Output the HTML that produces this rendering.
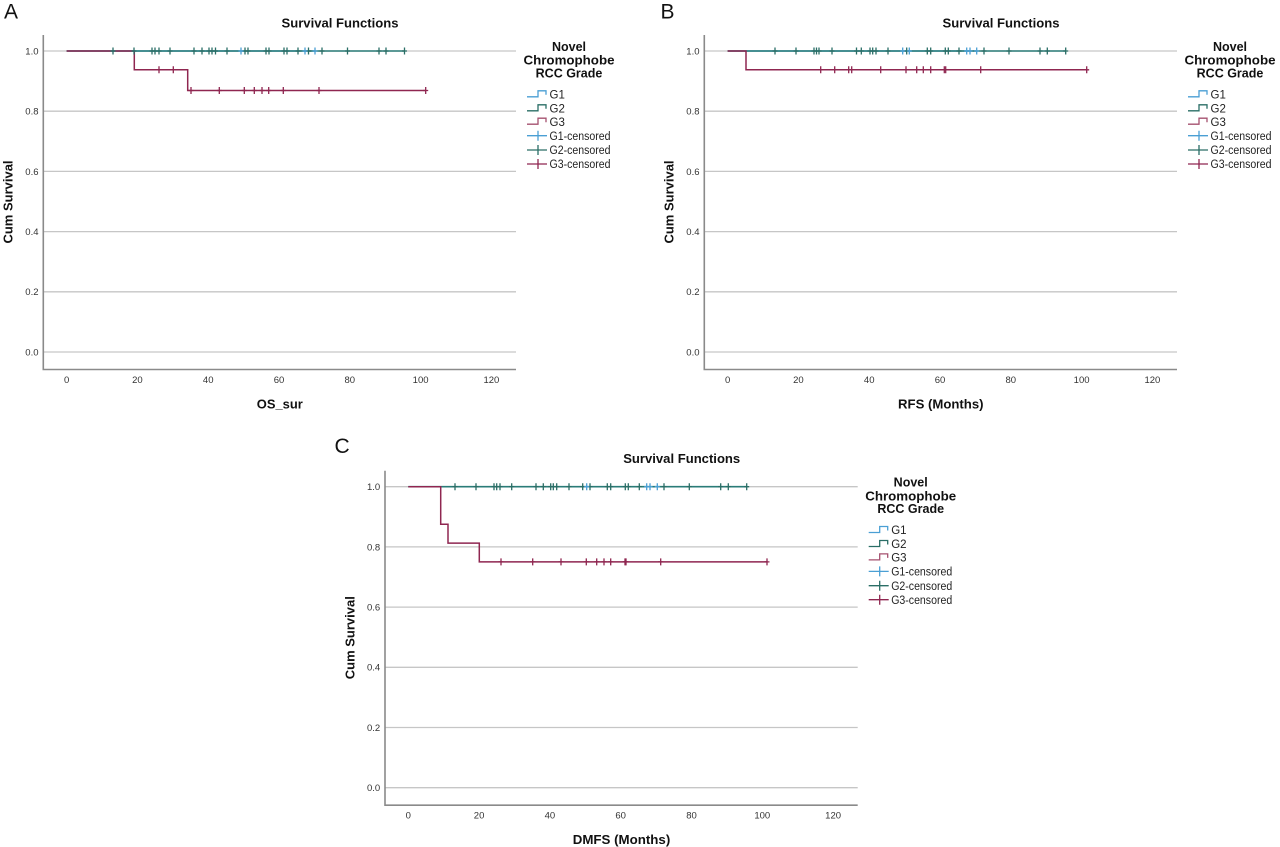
<!DOCTYPE html>
<html>
<head>
<meta charset="utf-8">
<style>
  html, body { margin: 0; padding: 0; background: #ffffff; }
  svg { display: block; }
  text { font-family: "Liberation Sans", Arial, sans-serif; }
  .tick { font-size: 9.5px; fill: #333333; }
  .ttl { font-size: 13px; font-weight: bold; fill: #111111; }
  .lgt { font-size: 12.5px; font-weight: bold; fill: #111111; }
  .lg { font-size: 11.5px; fill: #222222; }
  .letter { font-size: 21px; fill: #111111; }
</style>
</head>
<body>
<svg width="1280" height="847" viewBox="0 0 1280 847" xmlns="http://www.w3.org/2000/svg">
  <defs>
    <path id="cx" d="M0,-3.5V3.5M-2.5,0H2.5" fill="none"/>
  </defs>
  <rect x="0" y="0" width="1280" height="847" fill="#ffffff"/>

  <!-- Panel letters -->
  <text class="letter" x="4" y="18.5">A</text>
  <text class="letter" x="660.5" y="18.5">B</text>
  <text class="letter" x="334.5" y="453">C</text>

  <!-- ================= PANEL A ================= -->
  <g transform="translate(0,0)">
    <text class="ttl" x="340" y="27.5" text-anchor="middle" textLength="117" lengthAdjust="spacingAndGlyphs">Survival Functions</text>
    <!-- gridlines -->
    <g stroke="#c6c6c6" stroke-width="1.3" fill="none">
      <path d="M43.3,51H516M43.3,111.2H516M43.3,171.4H516M43.3,231.6H516M43.3,291.8H516M43.3,352H516"/>
    </g>
    <!-- axes -->
    <path d="M43.3,35V369.5H516" stroke="#8a8a8a" stroke-width="1.6" fill="none"/>
    <!-- y ticks -->
    <g class="tick" text-anchor="end">
      <text x="38.5" y="54.4">1.0</text>
      <text x="38.5" y="114.6">0.8</text>
      <text x="38.5" y="174.8">0.6</text>
      <text x="38.5" y="235">0.4</text>
      <text x="38.5" y="295.2">0.2</text>
      <text x="38.5" y="355.4">0.0</text>
    </g>
    <!-- x ticks -->
    <g class="tick" text-anchor="middle">
      <text x="66.6" y="383">0</text>
      <text x="137.4" y="383">20</text>
      <text x="208.2" y="383">40</text>
      <text x="279" y="383">60</text>
      <text x="349.8" y="383">80</text>
      <text x="420.6" y="383">100</text>
      <text x="491.4" y="383">120</text>
    </g>
    <text class="ttl" x="279.8" y="408.5" text-anchor="middle" textLength="46" lengthAdjust="spacingAndGlyphs">OS_sur</text>
    <text class="ttl" transform="translate(12.6,202) rotate(-90)" text-anchor="middle">Cum Survival</text>

    <!-- series -->
    <path d="M66.6,51H315" stroke="#4a9fd4" stroke-width="1.5" fill="none"/>
    <path d="M66.6,51H404.5" stroke="#2a7c78" stroke-width="1.6" fill="none"/>
    <path d="M66.6,51H134.3V69.8H187.7V90.5H425.7" stroke="#8f2650" stroke-width="1.5" fill="none"/>
    <g stroke="#2a6e66" stroke-width="1.3">
      <use href="#cx" x="113" y="51"/><use href="#cx" x="134" y="51"/><use href="#cx" x="152" y="51"/>
      <use href="#cx" x="155" y="51"/><use href="#cx" x="159" y="51"/><use href="#cx" x="170" y="51"/>
      <use href="#cx" x="194" y="51"/><use href="#cx" x="202" y="51"/><use href="#cx" x="209" y="51"/>
      <use href="#cx" x="212" y="51"/><use href="#cx" x="215.5" y="51"/><use href="#cx" x="227" y="51"/>
      <use href="#cx" x="245" y="51"/><use href="#cx" x="248" y="51"/><use href="#cx" x="266" y="51"/>
      <use href="#cx" x="269" y="51"/><use href="#cx" x="284" y="51"/><use href="#cx" x="287" y="51"/>
      <use href="#cx" x="298" y="51"/><use href="#cx" x="308.5" y="51"/><use href="#cx" x="322" y="51"/>
      <use href="#cx" x="347.5" y="51"/><use href="#cx" x="379" y="51"/><use href="#cx" x="386" y="51"/>
      <use href="#cx" x="404.5" y="51"/>
    </g>
    <g stroke="#4a9fd4" stroke-width="1.3">
      <use href="#cx" x="241" y="51"/><use href="#cx" x="305" y="51"/><use href="#cx" x="315" y="51"/>
    </g>
    <g stroke="#8f2650" stroke-width="1.3">
      <use href="#cx" x="159" y="69.8"/><use href="#cx" x="173.3" y="69.8"/>
      <use href="#cx" x="191" y="90.5"/><use href="#cx" x="219.3" y="90.5"/><use href="#cx" x="244.3" y="90.5"/>
      <use href="#cx" x="254.3" y="90.5"/><use href="#cx" x="262" y="90.5"/><use href="#cx" x="268.7" y="90.5"/>
      <use href="#cx" x="283.3" y="90.5"/><use href="#cx" x="319" y="90.5"/><use href="#cx" x="425.7" y="90.5"/>
    </g>

    <!-- legend -->
    <g class="lgt" text-anchor="middle">
      <text x="569" y="51">Novel</text>
      <text x="569" y="64.7" textLength="91" lengthAdjust="spacingAndGlyphs">Chromophobe</text>
      <text x="569" y="77.4">RCC Grade</text>
    </g>
    <g fill="none" stroke-width="1.3">
      <path d="M527,96.8H538V90.8H546V94.8" stroke="#4a9fd4"/>
      <path d="M527,110.8H538V104.8H546V108.8" stroke="#2a6e66"/>
      <path d="M527,124.2H538V118.2H546V122.2" stroke="#a5506f"/>
      <path d="M527,135.7H547M538,130.7V140.7" stroke="#4a9fd4"/>
      <path d="M527,150H547M538,145V155" stroke="#2a6e66"/>
      <path d="M527,164H547M538,159V169" stroke="#8f2650"/>
    </g>
    <g class="lg">
      <text x="549.5" y="98.4">G1</text>
      <text x="549.5" y="112.4">G2</text>
      <text x="549.5" y="125.8">G3</text>
      <text x="549.5" y="139.8" textLength="61" lengthAdjust="spacingAndGlyphs">G1-censored</text>
      <text x="549.5" y="154.1" textLength="61" lengthAdjust="spacingAndGlyphs">G2-censored</text>
      <text x="549.5" y="168.1" textLength="61" lengthAdjust="spacingAndGlyphs">G3-censored</text>
    </g>
  </g>

  <!-- ================= PANEL B ================= -->
  <g transform="translate(661,0)">
    <text class="ttl" x="340" y="27.5" text-anchor="middle" textLength="117" lengthAdjust="spacingAndGlyphs">Survival Functions</text>
    <g stroke="#c6c6c6" stroke-width="1.3" fill="none">
      <path d="M43.3,51H516M43.3,111.2H516M43.3,171.4H516M43.3,231.6H516M43.3,291.8H516M43.3,352H516"/>
    </g>
    <path d="M43.3,35V369.5H516" stroke="#8a8a8a" stroke-width="1.6" fill="none"/>
    <g class="tick" text-anchor="end">
      <text x="38.5" y="54.4">1.0</text>
      <text x="38.5" y="114.6">0.8</text>
      <text x="38.5" y="174.8">0.6</text>
      <text x="38.5" y="235">0.4</text>
      <text x="38.5" y="295.2">0.2</text>
      <text x="38.5" y="355.4">0.0</text>
    </g>
    <g class="tick" text-anchor="middle">
      <text x="66.6" y="383">0</text>
      <text x="137.4" y="383">20</text>
      <text x="208.2" y="383">40</text>
      <text x="279" y="383">60</text>
      <text x="349.8" y="383">80</text>
      <text x="420.6" y="383">100</text>
      <text x="491.4" y="383">120</text>
    </g>
    <text class="ttl" x="279.8" y="408.5" text-anchor="middle" textLength="85.5" lengthAdjust="spacingAndGlyphs">RFS (Months)</text>
    <text class="ttl" transform="translate(12.6,202) rotate(-90)" text-anchor="middle">Cum Survival</text>

    <path d="M66.6,51H315" stroke="#4a9fd4" stroke-width="1.5" fill="none"/>
    <path d="M66.6,51H404.5" stroke="#2a7c78" stroke-width="1.6" fill="none"/>
    <path d="M66.6,51H85V69.8H425.7" stroke="#8f2650" stroke-width="1.5" fill="none"/>
    <g stroke="#2a6e66" stroke-width="1.3">
      <use href="#cx" x="114" y="51"/><use href="#cx" x="135" y="51"/><use href="#cx" x="153" y="51"/>
      <use href="#cx" x="155.5" y="51"/><use href="#cx" x="158" y="51"/><use href="#cx" x="171" y="51"/>
      <use href="#cx" x="195.5" y="51"/><use href="#cx" x="200.3" y="51"/><use href="#cx" x="209" y="51"/>
      <use href="#cx" x="211.7" y="51"/><use href="#cx" x="215" y="51"/><use href="#cx" x="227" y="51"/>
      <use href="#cx" x="245.7" y="51"/><use href="#cx" x="266.3" y="51"/>
      <use href="#cx" x="269.7" y="51"/><use href="#cx" x="284.3" y="51"/><use href="#cx" x="287.3" y="51"/>
      <use href="#cx" x="298" y="51"/><use href="#cx" x="323" y="51"/>
      <use href="#cx" x="348" y="51"/><use href="#cx" x="379" y="51"/><use href="#cx" x="386.3" y="51"/>
      <use href="#cx" x="404.7" y="51"/>
    </g>
    <g stroke="#4a9fd4" stroke-width="1.3">
      <use href="#cx" x="241.7" y="51"/><use href="#cx" x="248.3" y="51"/><use href="#cx" x="305.7" y="51"/>
      <use href="#cx" x="309" y="51"/><use href="#cx" x="315.7" y="51"/>
    </g>
    <g stroke="#8f2650" stroke-width="1.3">
      <use href="#cx" x="159.7" y="69.8"/><use href="#cx" x="173.7" y="69.8"/><use href="#cx" x="187.7" y="69.8"/>
      <use href="#cx" x="190.7" y="69.8"/><use href="#cx" x="219.7" y="69.8"/><use href="#cx" x="245" y="69.8"/>
      <use href="#cx" x="255.7" y="69.8"/><use href="#cx" x="262.3" y="69.8"/><use href="#cx" x="269.7" y="69.8"/>
      <use href="#cx" x="283.3" y="69.8"/><use href="#cx" x="284.7" y="69.8"/><use href="#cx" x="319.7" y="69.8"/>
      <use href="#cx" x="425.7" y="69.8"/>
    </g>

    <g class="lgt" text-anchor="middle">
      <text x="569" y="51">Novel</text>
      <text x="569" y="64.7" textLength="91" lengthAdjust="spacingAndGlyphs">Chromophobe</text>
      <text x="569" y="77.4">RCC Grade</text>
    </g>
    <g fill="none" stroke-width="1.3">
      <path d="M527,96.8H538V90.8H546V94.8" stroke="#4a9fd4"/>
      <path d="M527,110.8H538V104.8H546V108.8" stroke="#2a6e66"/>
      <path d="M527,124.2H538V118.2H546V122.2" stroke="#a5506f"/>
      <path d="M527,135.7H547M538,130.7V140.7" stroke="#4a9fd4"/>
      <path d="M527,150H547M538,145V155" stroke="#2a6e66"/>
      <path d="M527,164H547M538,159V169" stroke="#8f2650"/>
    </g>
    <g class="lg">
      <text x="549.5" y="98.4">G1</text>
      <text x="549.5" y="112.4">G2</text>
      <text x="549.5" y="125.8">G3</text>
      <text x="549.5" y="139.8" textLength="61" lengthAdjust="spacingAndGlyphs">G1-censored</text>
      <text x="549.5" y="154.1" textLength="61" lengthAdjust="spacingAndGlyphs">G2-censored</text>
      <text x="549.5" y="168.1" textLength="61" lengthAdjust="spacingAndGlyphs">G3-censored</text>
    </g>
  </g>

  <!-- ================= PANEL C ================= -->
  <g transform="translate(341.7,435.7)">
    <text class="ttl" x="340" y="27.5" text-anchor="middle" textLength="117" lengthAdjust="spacingAndGlyphs">Survival Functions</text>
    <g stroke="#c6c6c6" stroke-width="1.3" fill="none">
      <path d="M43.3,51H516M43.3,111.2H516M43.3,171.4H516M43.3,231.6H516M43.3,291.8H516M43.3,352H516"/>
    </g>
    <path d="M43.3,35V369.5H516" stroke="#8a8a8a" stroke-width="1.6" fill="none"/>
    <g class="tick" text-anchor="end">
      <text x="38.5" y="54.4">1.0</text>
      <text x="38.5" y="114.6">0.8</text>
      <text x="38.5" y="174.8">0.6</text>
      <text x="38.5" y="235">0.4</text>
      <text x="38.5" y="295.2">0.2</text>
      <text x="38.5" y="355.4">0.0</text>
    </g>
    <g class="tick" text-anchor="middle">
      <text x="66.6" y="383">0</text>
      <text x="137.4" y="383">20</text>
      <text x="208.2" y="383">40</text>
      <text x="279" y="383">60</text>
      <text x="349.8" y="383">80</text>
      <text x="420.6" y="383">100</text>
      <text x="491.4" y="383">120</text>
    </g>
    <text class="ttl" x="279.8" y="408.5" text-anchor="middle" textLength="97.5" lengthAdjust="spacingAndGlyphs">DMFS (Months)</text>
    <text class="ttl" transform="translate(12.6,202) rotate(-90)" text-anchor="middle">Cum Survival</text>

    <path d="M66.6,51H315" stroke="#4a9fd4" stroke-width="1.5" fill="none"/>
    <path d="M66.6,51H405" stroke="#2a7c78" stroke-width="1.6" fill="none"/>
    <path d="M66.6,51H99V88.6H106.3V107.4H137.6V126.2H425.3" stroke="#8f2650" stroke-width="1.5" fill="none"/>
    <g stroke="#2a6e66" stroke-width="1.3">
      <use href="#cx" x="113.3" y="51"/><use href="#cx" x="134.3" y="51"/><use href="#cx" x="152.3" y="51"/>
      <use href="#cx" x="155" y="51"/><use href="#cx" x="158.3" y="51"/><use href="#cx" x="170" y="51"/>
      <use href="#cx" x="194.3" y="51"/><use href="#cx" x="201.6" y="51"/><use href="#cx" x="209" y="51"/>
      <use href="#cx" x="211.6" y="51"/><use href="#cx" x="215" y="51"/><use href="#cx" x="227.3" y="51"/>
      <use href="#cx" x="241" y="51"/><use href="#cx" x="248.3" y="51"/><use href="#cx" x="265.6" y="51"/>
      <use href="#cx" x="269" y="51"/><use href="#cx" x="283.6" y="51"/><use href="#cx" x="286.6" y="51"/>
      <use href="#cx" x="297.6" y="51"/><use href="#cx" x="322.3" y="51"/>
      <use href="#cx" x="347.6" y="51"/><use href="#cx" x="379" y="51"/><use href="#cx" x="386.6" y="51"/>
      <use href="#cx" x="405" y="51"/>
    </g>
    <g stroke="#4a9fd4" stroke-width="1.3">
      <use href="#cx" x="245" y="51"/><use href="#cx" x="305" y="51"/><use href="#cx" x="308.3" y="51"/>
      <use href="#cx" x="315.6" y="51"/>
    </g>
    <g stroke="#8f2650" stroke-width="1.3">
      <use href="#cx" x="159.3" y="126.2"/><use href="#cx" x="191" y="126.2"/><use href="#cx" x="219.3" y="126.2"/>
      <use href="#cx" x="244.6" y="126.2"/><use href="#cx" x="255" y="126.2"/><use href="#cx" x="262.3" y="126.2"/>
      <use href="#cx" x="269" y="126.2"/><use href="#cx" x="283.3" y="126.2"/><use href="#cx" x="284.3" y="126.2"/>
      <use href="#cx" x="319" y="126.2"/><use href="#cx" x="425.3" y="126.2"/>
    </g>

    <g class="lgt" text-anchor="middle">
      <text x="569" y="51">Novel</text>
      <text x="569" y="64.7" textLength="91" lengthAdjust="spacingAndGlyphs">Chromophobe</text>
      <text x="569" y="77.4">RCC Grade</text>
    </g>
    <g fill="none" stroke-width="1.3">
      <path d="M527,96.8H538V90.8H546V94.8" stroke="#4a9fd4"/>
      <path d="M527,110.8H538V104.8H546V108.8" stroke="#2a6e66"/>
      <path d="M527,124.2H538V118.2H546V122.2" stroke="#a5506f"/>
      <path d="M527,135.7H547M538,130.7V140.7" stroke="#4a9fd4"/>
      <path d="M527,150H547M538,145V155" stroke="#2a6e66"/>
      <path d="M527,164H547M538,159V169" stroke="#8f2650"/>
    </g>
    <g class="lg">
      <text x="549.5" y="98.4">G1</text>
      <text x="549.5" y="112.4">G2</text>
      <text x="549.5" y="125.8">G3</text>
      <text x="549.5" y="139.8" textLength="61" lengthAdjust="spacingAndGlyphs">G1-censored</text>
      <text x="549.5" y="154.1" textLength="61" lengthAdjust="spacingAndGlyphs">G2-censored</text>
      <text x="549.5" y="168.1" textLength="61" lengthAdjust="spacingAndGlyphs">G3-censored</text>
    </g>
  </g>
</svg>
</body>
</html>
